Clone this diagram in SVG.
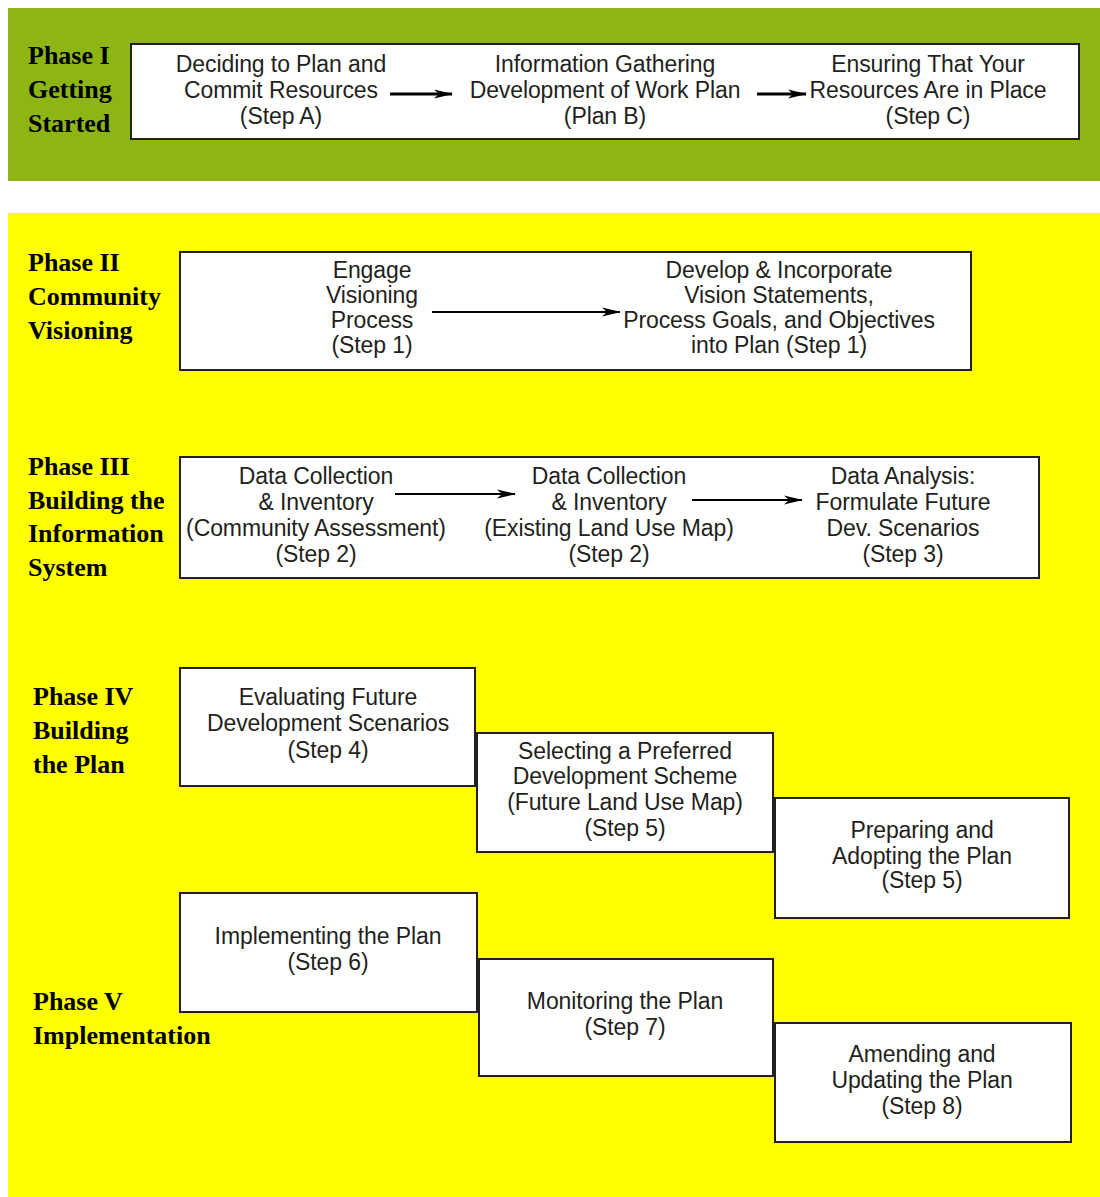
<svg xmlns="http://www.w3.org/2000/svg" width="1100" height="1197" viewBox="0 0 1100 1197">
<style>
.box{fill:#fff;stroke:#231f20;stroke-width:2}
.t{font-family:"Liberation Sans",Arial,sans-serif;font-size:23px;fill:#231f20;text-anchor:middle;letter-spacing:-0.1px}
.ph{font-family:"Liberation Serif","Times New Roman",serif;font-size:26px;font-weight:bold;fill:#000}
.con{stroke:#000;stroke-width:2;fill:none;marker-end:url(#ah)}
.thick{stroke-width:3}
</style>
<defs>
<marker id="ah" markerWidth="19" markerHeight="10" refX="18" refY="5" orient="auto" markerUnits="userSpaceOnUse">
<path d="M0,0.5 L19,5 L0,9.5 L5,5 Z" fill="#000"/>
</marker>
</defs>
<rect x="0" y="0" width="1100" height="1197" fill="#fff"/>
<rect x="8" y="8" width="1092" height="173" fill="#8db514"/>
<rect x="8" y="213" width="1092" height="984" fill="#ffff00"/>

<g id="phase-labels">
<text class="ph" x="28" y="64">Phase I</text>
<text class="ph" x="28" y="98">Getting</text>
<text class="ph" x="28" y="132">Started</text>
<text class="ph" x="28" y="271">Phase II</text>
<text class="ph" x="28" y="305">Community</text>
<text class="ph" x="28" y="339">Visioning</text>
<text class="ph" x="28" y="475">Phase III</text>
<text class="ph" x="28" y="509">Building the</text>
<text class="ph" x="28" y="542">Information</text>
<text class="ph" x="28" y="576">System</text>
<text class="ph" x="33" y="705">Phase IV</text>
<text class="ph" x="33" y="739">Building</text>
<text class="ph" x="33" y="773">the Plan</text>
<text class="ph" x="33" y="1010">Phase V</text>
<text class="ph" x="33" y="1044">Implementation</text>
</g>

<g id="phase1">
<rect class="box" x="131" y="44" width="948" height="95"/>
<g id="stepA"><text class="t" x="281" y="72">Deciding to Plan and</text><text class="t" x="281" y="98">Commit Resources</text><text class="t" x="281" y="124">(Step A)</text></g>
<g id="planB"><text class="t" x="605" y="72">Information Gathering</text><text class="t" x="605" y="98">Development of Work Plan</text><text class="t" x="605" y="124">(Plan B)</text></g>
<g id="stepC"><text class="t" x="928" y="72">Ensuring That Your</text><text class="t" x="928" y="98">Resources Are in Place</text><text class="t" x="928" y="124">(Step C)</text></g>
</g>

<g id="phase2">
<rect class="box" x="180" y="252" width="791" height="118"/>
<g id="step1a"><text class="t" x="372" y="278">Engage</text><text class="t" x="372" y="303">Visioning</text><text class="t" x="372" y="328">Process</text><text class="t" x="372" y="353">(Step 1)</text></g>
<g id="step1b"><text class="t" x="779" y="278">Develop &amp; Incorporate</text><text class="t" x="779" y="303">Vision Statements,</text><text class="t" x="779" y="328">Process Goals, and Objectives</text><text class="t" x="779" y="353">into Plan (Step 1)</text></g>
</g>

<g id="phase3">
<rect class="box" x="180" y="457" width="859" height="121"/>
<g id="step2a"><text class="t" x="316" y="484">Data Collection</text><text class="t" x="316" y="510">&amp; Inventory</text><text class="t" x="316" y="536">(Community Assessment)</text><text class="t" x="316" y="562">(Step 2)</text></g>
<g id="step2b"><text class="t" x="609" y="484">Data Collection</text><text class="t" x="609" y="510">&amp; Inventory</text><text class="t" x="609" y="536">(Existing Land Use Map)</text><text class="t" x="609" y="562">(Step 2)</text></g>
<g id="step3"><text class="t" x="903" y="484">Data Analysis:</text><text class="t" x="903" y="510">Formulate Future</text><text class="t" x="903" y="536">Dev. Scenarios</text><text class="t" x="903" y="562">(Step 3)</text></g>
</g>

<g id="step4">
<rect class="box" x="180" y="668" width="295" height="118"/>
<text class="t" x="328" y="705">Evaluating Future</text><text class="t" x="328" y="731">Development Scenarios</text><text class="t" x="328" y="758">(Step 4)</text>
</g>
<g id="step5a">
<rect class="box" x="477" y="733" width="296" height="119"/>
<text class="t" x="625" y="759">Selecting a Preferred</text><text class="t" x="625" y="784">Development Scheme</text><text class="t" x="625" y="810">(Future Land Use Map)</text><text class="t" x="625" y="836">(Step 5)</text>
</g>
<g id="step5b">
<rect class="box" x="775" y="798" width="294" height="120"/>
<text class="t" x="922" y="838">Preparing and</text><text class="t" x="922" y="864">Adopting the Plan</text><text class="t" x="922" y="888">(Step 5)</text>
</g>
<g id="step6">
<rect class="box" x="180" y="893" width="297" height="119"/>
<text class="t" x="328" y="944">Implementing the Plan</text><text class="t" x="328" y="970">(Step 6)</text>
</g>
<g id="step7">
<rect class="box" x="479" y="959" width="294" height="117"/>
<text class="t" x="625" y="1009">Monitoring the Plan</text><text class="t" x="625" y="1035">(Step 7)</text>
</g>
<g id="step8">
<rect class="box" x="775" y="1023" width="296" height="119"/>
<text class="t" x="922" y="1062">Amending and</text><text class="t" x="922" y="1088">Updating the Plan</text><text class="t" x="922" y="1114">(Step 8)</text>
</g>

<g id="connectors">
<line class="con thick" x1="390" y1="94" x2="452" y2="94"/>
<line class="con thick" x1="757" y1="94" x2="806" y2="94"/>
<line class="con" x1="432" y1="312" x2="620" y2="312"/>
<line class="con" x1="395" y1="494" x2="515" y2="494"/>
<line class="con" x1="692" y1="500" x2="802" y2="500"/>
</g>
</svg>
